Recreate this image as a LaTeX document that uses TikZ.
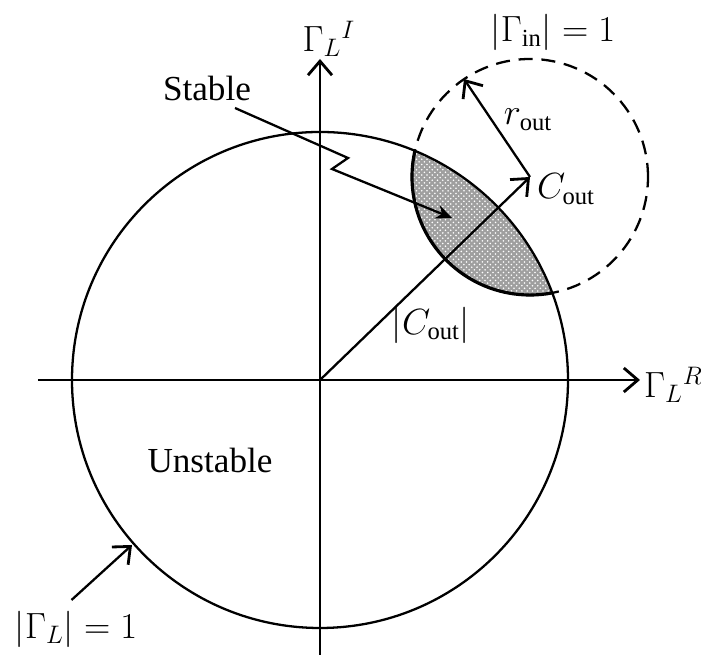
\documentclass[tikz,border=0pt]{standalone}
\usepackage{fontspec}
\setmainfont{Liberation Serif}
\usepackage{tikz}
\usetikzlibrary{arrows.meta,patterns}
\tikzset{
  lbl/.style={font=\fontsize{20}{24}\selectfont,inner sep=1pt},
  axis/.style={line width=1.5pt,-{Straight Barb[length=2.8mm,width=4.8mm,line width=1.6pt]}},
  ptr/.style={line width=1.3pt,-{Straight Barb[length=2.8mm,width=4.8mm,line width=1.6pt]}},
}

\begin{document}
\begin{tikzpicture}[x=1cm,y=1cm]
\path[use as bounding box] (0,0) rectangle (14.02,13.20);
\coordinate (O) at (6.40,5.60);
\coordinate (Cout) at (10.60,9.66);
\coordinate (rtip) at (9.28,11.62);
\coordinate (xl) at (0.76,5.60);
\coordinate (xr) at (12.80,5.60);
\coordinate (yb) at (6.40,0.10);
\coordinate (yt) at (6.40,12.02);
% stable region
\begin{scope}
\clip (O) circle (4.96);
\fill[gray!75] (Cout) circle (2.36);
\fill[pattern=crosshatch dots,pattern color=white] (Cout) circle (2.36);
\end{scope}
\draw[line width=1.3pt] (O) circle (4.96);
\draw[line width=1.3pt,dash pattern=on 8pt off 5pt] (Cout) circle (2.36);
\begin{scope}
\clip (O) circle (4.96);
\draw[line width=1.8pt] (Cout) circle (2.36);
\end{scope}
% axes
\draw[axis] (xl) -- (xr);
\draw[axis] (yb) -- (yt);
\node[lbl,anchor=west] (glr) at (12.84,5.50) {$\Gamma_{L}{}^{R}$};
\node[lbl,anchor=south] (gli) at (6.58,12.02) {$\Gamma_{L}{}^{I}$};
% center and radius
\draw[ptr] (O) -- (Cout);
\draw[ptr] (Cout) -- (rtip);
\node[lbl,anchor=west] (cout) at (10.70,9.42) {$C_{\mathrm{out}}$};
\node[lbl] (rout) at (10.56,10.80) {$r_{\mathrm{out}}$};
\node[lbl] (cabs) at (8.62,6.70) {$|C_{\mathrm{out}}|$};
\node[lbl] (gin) at (11.06,12.56) {$|\Gamma_{\mathrm{in}}| = 1$};
% stable pointer
\node[lbl] (stable) at (4.14,11.44) {Stable};
\coordinate (sttail) at (4.70,11.04);
\coordinate (zz1) at (6.96,10.04);
\coordinate (zz2) at (6.64,9.82);
\coordinate (sthead) at (9.04,8.84);
\draw[line width=1.3pt,-{Stealth[length=3.2mm,width=2.8mm]}] (sttail) -- (zz1) -- (zz2) -- (sthead);
% unstable
\node[lbl] (unstable) at (4.20,4.00) {Unstable};
\node[lbl] (gl) at (1.52,0.62) {$|\Gamma_{L}| = 1$};
\coordinate (gltail) at (1.43,1.20);
\coordinate (glhead) at (2.64,2.30);
\draw[ptr] (gltail) -- (glhead);
\end{tikzpicture}
\end{document}
